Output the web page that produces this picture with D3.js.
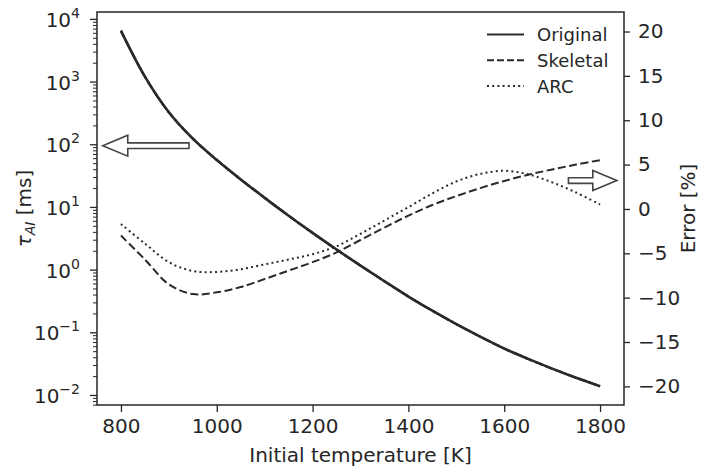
<!DOCTYPE html>
<html>
<head>
<meta charset="utf-8">
<script src="https://cdn.jsdelivr.net/npm/d3@7"></script>
<style>
  body { margin: 0; background: #fff; }
  text { font-family: "DejaVu Sans", sans-serif; fill: #262626; }
</style>
</head>
<body>
<div id="chart"></div>
<script>
// initial temperature [K]
let temps = [800, 850, 900, 950, 1000, 1050, 1100, 1150, 1200, 1250, 1300,
             1350, 1400, 1450, 1500, 1550, 1600, 1650, 1700, 1750, 1800];

// ignition delay [ms] (the three mechanisms overlap at this scale)
let tauOriginal = [6457, 1202, 324, 123, 56.2, 27.5, 13.96, 7.24, 3.85, 2.09, 1.16,
                   0.653, 0.372, 0.221, 0.135, 0.0851, 0.0550, 0.0376, 0.0263, 0.0188, 0.0138];
let tauSkeletal = [6457, 1202, 324, 123, 56.2, 27.5, 13.96, 7.24, 3.85, 2.09, 1.16,
                   0.653, 0.372, 0.221, 0.135, 0.0851, 0.0550, 0.0376, 0.0263, 0.0188, 0.0138];
let tauARC      = [6457, 1202, 324, 123, 56.2, 27.5, 13.96, 7.24, 3.85, 2.09, 1.16,
                   0.653, 0.372, 0.221, 0.135, 0.0851, 0.0550, 0.0376, 0.0263, 0.0188, 0.0138];

// error [%]
let errSkeletal = [-3.0, -5.7, -8.5, -9.6, -9.4, -8.8, -7.9, -6.95, -6.0, -4.9, -3.5,
                   -2.1, -0.75, 0.45, 1.45, 2.35, 3.15, 3.85, 4.45, 5.0, 5.5];
let errARC      = [-1.7, -3.9, -6.0, -7.0, -7.1, -6.8, -6.25, -5.7, -5.1, -4.2, -2.8,
                   -1.3, 0.2, 1.75, 3.1, 3.95, 4.3, 3.9, 3.0, 1.85, 0.5];

let xTicks = [800, 1000, 1200, 1400, 1600, 1800];
let leftExps = [-2, -1, 0, 1, 2, 3, 4];
let rightTicks = [-20, -15, -10, -5, 0, 5, 10, 15, 20];

let legendItems = [
  {name: "Original", dash: null},
  {name: "Skeletal", dash: "7,3"},
  {name: "ARC", dash: "2,3.2"}
];

const W = 701, H = 474;
const box = {left: 97, right: 624, top: 12, bottom: 405};
const ink = "#262626";

const svg = d3.select("#chart").append("svg")
  .attr("width", W).attr("height", H);

const x = d3.scaleLinear().domain([750, 1850]).range([box.left, box.right]);
const yL = d3.scaleLog().domain([Math.pow(10, -2.16), Math.pow(10, 4.11)]).range([box.bottom, box.top]);
const yR = d3.scaleLinear().domain([-22.1, 22.2]).range([box.bottom, box.top]);

// x axis
let gx = svg.append("g").attr("transform", `translate(0,${box.bottom})`)
  .call(d3.axisBottom(x).tickValues(xTicks).tickFormat(d3.format("d"))
    .tickSize(7).tickSizeOuter(0).tickPadding(7));
gx.select(".domain").remove();
gx.selectAll("line").attr("stroke", ink).attr("stroke-width", 1.3);
gx.selectAll("text").attr("font-size", 20).attr("fill", ink);

// left log axis, major + minor ticks
let minors = [];
for (let e = -3; e <= 4; e++) {
  for (let m = 2; m <= 9; m++) {
    let v = m * Math.pow(10, e);
    if (v >= yL.domain()[0] && v <= yL.domain()[1]) minors.push(v);
  }
}
let gyMinor = svg.append("g").attr("transform", `translate(${box.left},0)`)
  .call(d3.axisLeft(yL).tickValues(minors).tickSize(4).tickFormat(""));
gyMinor.select(".domain").remove();
gyMinor.selectAll("line").attr("stroke", ink).attr("stroke-width", 1);

let gy = svg.append("g").attr("transform", `translate(${box.left},0)`)
  .call(d3.axisLeft(yL).tickValues(leftExps.map(e => Math.pow(10, e))).tickSize(7).tickFormat(""));
gy.select(".domain").remove();
gy.selectAll("line").attr("stroke", ink).attr("stroke-width", 1.3);

let leftLbl = svg.append("g").selectAll("text").data(leftExps).join("text")
  .attr("x", 80).attr("y", e => yL(Math.pow(10, e)) + 8)
  .attr("text-anchor", "end").attr("font-size", 20).attr("fill", ink);
leftLbl.append("tspan").text("10");
leftLbl.append("tspan").attr("dy", -9).attr("font-size", 14)
  .text(e => e < 0 ? "\u2212" + Math.abs(e) : e);

// right axis
let gr = svg.append("g").attr("transform", `translate(${box.right},0)`)
  .call(d3.axisRight(yR).tickValues(rightTicks).tickSize(6).tickPadding(8)
    .tickFormat(d => d < 0 ? "\u2212" + Math.abs(d) : d));
gr.select(".domain").remove();
gr.selectAll("line").attr("stroke", ink).attr("stroke-width", 1.3);
gr.selectAll("text").attr("font-size", 20).attr("fill", ink);

// frame
svg.append("rect")
  .attr("x", box.left).attr("y", box.top)
  .attr("width", box.right - box.left).attr("height", box.bottom - box.top)
  .attr("fill", "none").attr("stroke", ink).attr("stroke-width", 1.5);

// curves
let rows = temps.map((t, i) => ({t: t, to: tauOriginal[i], ts: tauSkeletal[i], ta: tauARC[i],
                                 es: errSkeletal[i], ea: errARC[i]}));

function drawLine(acc, scale, dash, width) {
  let line = d3.line().x(d => x(d.t)).y(d => scale(acc(d))).curve(d3.curveCatmullRom.alpha(0.5));
  svg.append("path").datum(rows)
    .attr("d", line).attr("fill", "none")
    .attr("stroke", "#2a2a2a").attr("stroke-width", width)
    .attr("stroke-dasharray", dash);
}
drawLine(d => d.to, yL, null, 2.6);
drawLine(d => d.ts, yL, "8,3.5", 2.2);
drawLine(d => d.ta, yL, "2,3.2", 2.2);
drawLine(d => d.es, yR, "8,3.5", 2);
drawLine(d => d.ea, yR, "2,3.2", 2);

// hollow arrows pointing to each axis
function arrow(tipX, tailX, cy, headLen, headHalf, shaftHalf) {
  let dir = tipX < tailX ? 1 : -1;
  let hx = tipX + dir * headLen;
  let p = d3.path();
  p.moveTo(tipX, cy);
  p.lineTo(hx, cy - headHalf);
  p.lineTo(hx, cy - shaftHalf);
  p.lineTo(tailX, cy - shaftHalf);
  p.lineTo(tailX, cy + shaftHalf);
  p.lineTo(hx, cy + shaftHalf);
  p.lineTo(hx, cy + headHalf);
  p.closePath();
  svg.append("path").attr("d", p.toString())
    .attr("fill", "#fff").attr("stroke", "#444").attr("stroke-width", 1.6);
}
arrow(x(762), x(942), yL(95), 25, 10.5, 2.8);
arrow(x(1835), x(1734), yR(3.2), 24, 10, 2.8);

// legend
let lg = svg.append("g").selectAll("g").data(legendItems).join("g")
  .attr("transform", (d, i) => `translate(0,${34.5 + i * 25.8})`);
lg.append("line").attr("x1", 487).attr("x2", 524)
  .attr("stroke", "#2a2a2a").attr("stroke-width", 2)
  .attr("stroke-dasharray", d => d.dash);
lg.append("text").attr("x", 537).attr("y", 6.5)
  .attr("font-size", 18).attr("fill", ink).text(d => d.name);

// axis labels
svg.append("text").attr("x", (box.left + box.right) / 2).attr("y", 462)
  .attr("text-anchor", "middle").attr("font-size", 20).attr("fill", ink)
  .text("Initial temperature [K]");

let ylab = svg.append("text")
  .attr("transform", `translate(31,${(box.top + box.bottom) / 2}) rotate(-90)`)
  .attr("text-anchor", "middle").attr("font-size", 20).attr("fill", ink);
ylab.append("tspan").attr("font-style", "italic").text("\u03c4");
ylab.append("tspan").attr("font-style", "italic").attr("font-size", 14).attr("dy", 4).text("AI");
ylab.append("tspan").attr("dy", -4).text(" [ms]");

svg.append("text")
  .attr("transform", `translate(695,${(box.top + box.bottom) / 2}) rotate(-90)`)
  .attr("text-anchor", "middle").attr("font-size", 20).attr("fill", ink)
  .text("Error [%]");
</script>
</body>
</html>
